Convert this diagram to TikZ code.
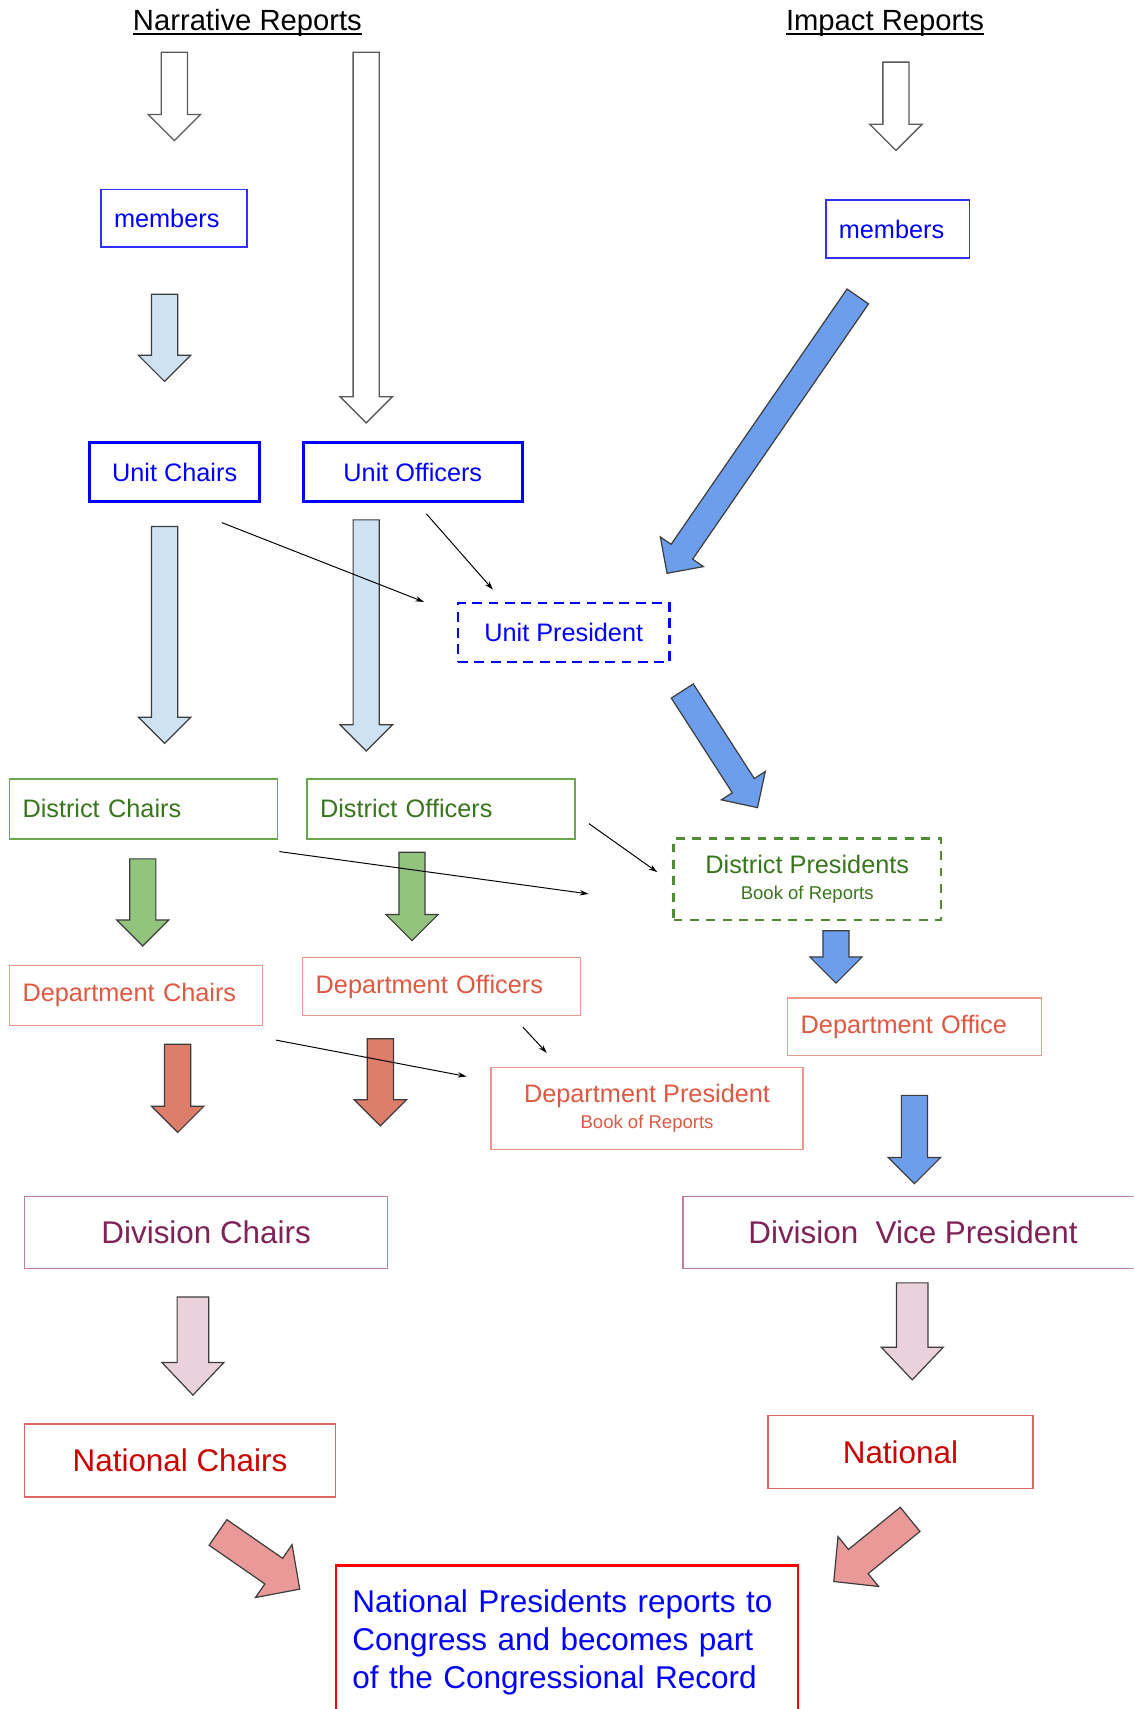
\documentclass[tikz,border=0pt]{standalone}
\usepackage{fontspec}
\setmainfont{Liberation Sans}
\usetikzlibrary{calc,arrows.meta}
\definecolor{tblue}{RGB}{0,0,255}
\definecolor{bblue}{RGB}{50,50,255}
\definecolor{tgreen}{RGB}{56,118,29}
\definecolor{bgreen}{RGB}{106,168,79}
\definecolor{dgreen}{RGB}{80,140,50}
\definecolor{tsalmon}{RGB}{224,88,66}
\definecolor{bsalmon}{RGB}{236,150,140}
\definecolor{tmag}{RGB}{128,34,88}
\definecolor{bmag}{RGB}{194,123,160}
\definecolor{tred}{RGB}{204,0,0}
\definecolor{bred}{RGB}{224,102,102}
\definecolor{fred}{RGB}{255,0,0}
\definecolor{arrline}{RGB}{60,60,60}
\definecolor{hollowline}{RGB}{90,90,90}
\definecolor{flblue}{RGB}{207,226,243}
\definecolor{fblue}{RGB}{109,158,235}
\definecolor{fgreen}{RGB}{147,196,125}
\definecolor{fdsalmon}{RGB}{221,126,107}
\definecolor{fpink}{RGB}{234,209,220}
\definecolor{fsalmon}{RGB}{234,153,153}

% block arrow: tail, tip, half shaft, half head, head length, style
\newcommand{\blockarr}[6]{%
  \coordinate (hb) at ($(#2)!#5!(#1)$);
  \draw[#6] ($(#1)!#3!90:(#2)$) -- ($(hb)!#3!-90:(#1)$) -- ($(hb)!#4!-90:(#1)$) -- (#2)
    -- ($(hb)!#4!90:(#1)$) -- ($(hb)!#3!90:(#1)$) -- ($(#1)!#3!-90:(#2)$) -- cycle;
}

\tikzset{
  hollow/.style={draw=hollowline, fill=white, line width=1.2pt, line join=miter},
  sarr/.style={draw=arrline, fill=#1, line width=1.1pt, line join=miter},
  thinarr/.style={-{Stealth[length=8pt,width=5pt]}, line width=0.9pt, black},
  bx/.style={draw, rectangle, anchor=north west, line width=1.3pt},
  lalign/.style={bx, align=left, inner xsep=12pt, inner ysep=0pt},
  calign/.style={bx, align=center, inner sep=0pt},
  f23/.style={font=\fontsize{23.2pt}{27pt}\selectfont},
  f29/.style={font=\fontsize{28.8pt}{34pt}\selectfont},
  ftitle/.style={font=\fontsize{26.8pt}{32pt}\selectfont},
  uline/.style={line width=1.6pt, black},
}

\begin{document}
\begin{tikzpicture}[x=1pt,y=-1pt]
\useasboundingbox (0,0) rectangle (1040,1568);
\clip (0,0) rectangle (1040,1568);
\fill[white] (0,0) rectangle (1040,1568);

% titles
\node[ftitle, anchor=base, inner sep=0pt] (nr) at (227,28) {Narrative Reports};
\node[ftitle, anchor=base, inner sep=0pt] (ir) at (812,28) {Impact Reports};
\draw[uline] ($(nr.base west)+(0,3.5)$) -- ($(nr.base east)+(0,3.5)$);
\draw[uline] ($(ir.base west)+(0,3.5)$) -- ($(ir.base east)+(0,3.5)$);

% boxes
\node[lalign, f23, draw=bblue, text=tblue, text width=110pt, minimum height=53pt] (mL) at (92,173) {members};
\node[lalign, f23, draw=bblue, text=tblue, text width=108pt, minimum height=53pt] (mR) at (757,183) {members};
\node[calign, f23, draw=tblue, text=tblue, line width=2.5pt, minimum width=156pt, minimum height=54pt] (uc) at (81,405) {Unit Chairs};
\node[calign, f23, draw=tblue, text=tblue, line width=2.5pt, minimum width=201pt, minimum height=54pt] (uo) at (277,405) {Unit Officers};
\node[calign, f23, draw=tblue, text=tblue, line width=2.5pt, dash pattern=on 9pt off 6pt, minimum width=194pt, minimum height=54pt] (up) at (419,552) {Unit President};

\node[lalign, f23, draw=bgreen, text=tgreen, text width=222pt, minimum height=55pt] (dc) at (8,714) {District Chairs};
\node[lalign, f23, draw=bgreen, text=tgreen, text width=222pt, minimum height=55pt] (do) at (281,714) {District Officers};
\node[calign, f23, draw=dgreen, text=tgreen, line width=2.3pt, dash pattern=on 8pt off 7pt, minimum width=245pt, minimum height=75pt] (dp) at (617,768)
  {District Presidents\\[-3pt]{\fontsize{17pt}{20pt}\selectfont Book of Reports}};

\node[lalign, f23, draw=bsalmon, text=tsalmon, text width=208pt, minimum height=55pt] (dec) at (8,885) {Department Chairs};
\node[lalign, f23, draw=bsalmon, text=tsalmon, text width=231pt, minimum height=53pt] (deo) at (277,878) {Department Officers};
\node[lalign, f23, draw=bsalmon, text=tsalmon, text width=209pt, minimum height=53pt] (deof) at (722,915) {Department Office};
\node[calign, f23, draw=bsalmon, text=tsalmon, minimum width=286pt, minimum height=75pt] (dep) at (450,979)
  {Department President\\[-3pt]{\fontsize{17pt}{20pt}\selectfont Book of Reports}};

\node[calign, f29, draw=bmag, text=tmag, minimum width=333pt, minimum height=66pt] (dvc) at (22,1097) {Division Chairs};
\node[calign, f29, draw=bmag, text=tmag, minimum width=422pt, minimum height=66pt] (dvp) at (626,1097) {Division\ \ Vice President};

\node[calign, f29, draw=bred, text=tred, minimum width=285pt, minimum height=67pt] (nc) at (22,1306) {National Chairs};
\node[calign, f29, draw=bred, text=tred, minimum width=243pt, minimum height=67pt] (nat) at (704,1298) {National};

\node[bx, draw=fred, text=tblue, line width=2.5pt, align=left, text width=394pt, inner xsep=15pt, inner ysep=22pt,
  font=\fontsize{28.9pt}{35pt}\selectfont] (fin) at (307,1435)
  {National Presidents reports to\\Congress and becomes part\\of the Congressional Record};

% block arrows
\coordinate (a1t) at (160,48);   \coordinate (a1h) at (160,129);
\coordinate (a2t) at (336,48);   \coordinate (a2h) at (336,388);
\coordinate (a3t) at (822,57);   \coordinate (a3h) at (822,138);
\coordinate (a4t) at (151,270);  \coordinate (a4h) at (151,350);
\coordinate (a5t) at (787,272);  \coordinate (a5h) at (612,526);
\coordinate (a6t) at (151,483);  \coordinate (a6h) at (151,682);
\coordinate (a7t) at (336,477);  \coordinate (a7h) at (336,689);
\coordinate (a8t) at (626,634);  \coordinate (a8h) at (695,741);
\coordinate (a9t) at (131,788);  \coordinate (a9h) at (131,868);
\coordinate (a10t) at (378,782); \coordinate (a10h) at (378,863);
\coordinate (a11t) at (767,854); \coordinate (a11h) at (767,902);
\coordinate (a12t) at (163,958); \coordinate (a12h) at (163,1039);
\coordinate (a13t) at (349,953); \coordinate (a13h) at (349,1033);
\coordinate (a14t) at (839,1005);\coordinate (a14h) at (839,1086);
\coordinate (a15t) at (177,1190);\coordinate (a15h) at (177,1280);
\coordinate (a16t) at (837,1177);\coordinate (a16h) at (837,1266);
\coordinate (a17t) at (200,1406);\coordinate (a17h) at (275,1458);
\coordinate (a18t) at (835,1394);\coordinate (a18h) at (765,1451);

\blockarr{a1t}{a1h}{12pt}{24pt}{24pt}{hollow}
\blockarr{a2t}{a2h}{12pt}{24pt}{24pt}{hollow}
\blockarr{a3t}{a3h}{12pt}{24pt}{24pt}{hollow}
\blockarr{a4t}{a4h}{12pt}{24pt}{24pt}{sarr=flblue}
\blockarr{a5t}{a5h}{12pt}{24pt}{24pt}{sarr=fblue}
\blockarr{a6t}{a6h}{12pt}{24pt}{24pt}{sarr=flblue}
\blockarr{a7t}{a7h}{12pt}{24pt}{24pt}{sarr=flblue}
\blockarr{a8t}{a8h}{12pt}{24pt}{24pt}{sarr=fblue}
\blockarr{a9t}{a9h}{12pt}{24pt}{24pt}{sarr=fgreen}
\blockarr{a10t}{a10h}{12pt}{24pt}{24pt}{sarr=fgreen}
\blockarr{a11t}{a11h}{12pt}{24pt}{24pt}{sarr=fblue}
\blockarr{a12t}{a12h}{12pt}{24pt}{24pt}{sarr=fdsalmon}
\blockarr{a13t}{a13h}{12pt}{24pt}{24pt}{sarr=fdsalmon}
\blockarr{a14t}{a14h}{12pt}{24pt}{24pt}{sarr=fblue}
\blockarr{a15t}{a15h}{14.5pt}{28.5pt}{30pt}{sarr=fpink}
\blockarr{a16t}{a16h}{14.5pt}{28.5pt}{30pt}{sarr=fpink}
\blockarr{a17t}{a17h}{14.3pt}{29.5pt}{29pt}{sarr=fsalmon}
\blockarr{a18t}{a18h}{14.3pt}{29.5pt}{29pt}{sarr=fsalmon}

% thin arrows
\coordinate (t1s) at ($(uc.south east)+(-36,18)$);
\coordinate (t1e) at ($(up.west)+(-30,-28)$);
\coordinate (t2s) at ($(uo.south)+(12.5,10)$);
\coordinate (t2e) at ($(up.north)+(-65,-11)$);
\coordinate (t3s) at ($(do.east)+(12,13.5)$);
\coordinate (t3e) at ($(dp.west)+(-14,-6.5)$);
\coordinate (t4s) at ($(dc.south east)+(1,11)$);
\coordinate (t4e) at ($(dp.west)+(-77,13.5)$);
\coordinate (t5s) at ($(dec.south east)+(12,13)$);
\coordinate (t5e) at ($(dep.west)+(-22,-29.5)$);
\coordinate (t6s) at ($(deo.south)+(74.5,10)$);
\coordinate (t6e) at ($(dep.north)+(-92,-13)$);
\draw[thinarr] (t1s) -- (t1e);
\draw[thinarr] (t2s) -- (t2e);
\draw[thinarr] (t3s) -- (t3e);
\draw[thinarr] (t4s) -- (t4e);
\draw[thinarr] (t5s) -- (t5e);
\draw[thinarr] (t6s) -- (t6e);
\end{tikzpicture}
\end{document}
